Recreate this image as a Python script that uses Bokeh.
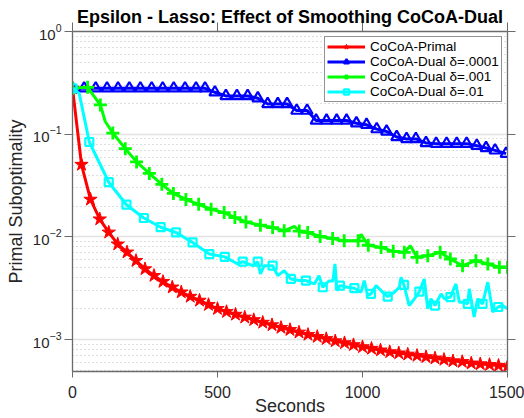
import numpy as np
from bokeh.plotting import figure
from bokeh.models import (Range1d, FixedTicker, LinearAxis, LogAxis, Legend, LegendItem,
                          ColumnDataSource, CustomJSTickFormatter)
from bokeh.embed import file_html
from bokeh.resources import INLINE

# ---------------- data ----------------
x_ticks = [0, 500, 1000, 1500]
y_ticks = [1e-3, 1e-2, 1e-1, 1.0]

primal_t = [0, 31, 62, 94, 125, 156, 188, 219, 250, 281, 312, 344, 375, 406, 438, 469,
            500, 531, 562, 594, 625, 656, 688, 719, 750, 781, 812, 844, 875, 906, 938, 969,
            1000, 1031, 1062, 1094, 1125, 1156, 1188, 1219, 1250, 1281, 1312, 1344, 1375,
            1406, 1438, 1469, 1500]
primal_v = [0.28, 0.0507, 0.0232, 0.0149, 0.0111, 0.0085, 0.0071, 0.00587, 0.00488, 0.0042,
            0.00367, 0.00324, 0.0029, 0.00263, 0.00241, 0.00219, 0.0020, 0.00187, 0.00176,
            0.00165, 0.00156, 0.00147, 0.00139, 0.00131, 0.00125, 0.00118, 0.00112, 0.00107,
            0.00102, 0.00097, 0.00093, 0.00089, 0.00085, 0.00082, 0.00079, 0.00076, 0.00074,
            0.00072, 0.00070, 0.00068, 0.00066, 0.00064, 0.00062, 0.00061, 0.00059, 0.00058,
            0.00057, 0.00056, 0.00055]

dual4_t = [0, 40, 80, 119, 157, 196, 234, 273, 311, 349, 388, 426, 457, 491, 529, 567, 604,
           639, 673, 708, 740, 773, 809, 840, 876, 911, 945, 979, 1014, 1049, 1083, 1118,
           1152, 1184, 1219, 1254, 1290, 1325, 1359, 1394, 1426, 1457, 1495]
dual4_v = [0.28, 0.28, 0.28, 0.28, 0.28, 0.28, 0.28, 0.28, 0.28, 0.28, 0.28, 0.28, 0.28,
           0.256, 0.236, 0.236, 0.236, 0.224, 0.197, 0.197, 0.197, 0.170, 0.170, 0.136,
           0.136, 0.136, 0.136, 0.128, 0.1236, 0.1122, 0.1064, 0.094, 0.090, 0.090, 0.0822,
           0.081, 0.081, 0.081, 0.081, 0.0774, 0.0735, 0.0697, 0.0647]

dual3_t = [0, 52, 96, 113, 139, 182, 221, 265, 308, 348, 391, 435, 478, 523, 560, 598, 648,
           690, 730, 765, 782, 811, 854, 897, 937, 985, 995, 1020, 1064, 1106, 1144, 1165,
           1188, 1225, 1268, 1303, 1345, 1391, 1432, 1472, 1500]
dual3_v = [0.28, 0.286, 0.193, 0.133, 0.1027, 0.0724, 0.0538, 0.0415, 0.0325, 0.0265, 0.0232,
           0.0208, 0.0186, 0.01726, 0.01545, 0.0140, 0.0130, 0.01235, 0.01146, 0.0127, 0.0114,
           0.01106, 0.0101, 0.00967, 0.00916, 0.00916, 0.0106, 0.0083, 0.00791, 0.00724,
           0.00708, 0.0082, 0.00633, 0.00657, 0.00708, 0.0061, 0.00525, 0.00587, 0.00546,
           0.00507, 0.00507]
dual3_mark = [1, 1, 1, 0, 1, 1, 1, 1, 1, 1, 1, 1, 1, 1, 1, 1, 1, 1, 1, 0, 1, 1, 1, 1, 1, 1, 0,
              1, 1, 1, 1, 0, 1, 1, 1, 1, 1, 1, 1, 1, 1]

dual2_t = [0, 23, 58, 125, 186, 246, 304, 357, 414, 472, 525, 570, 587, 621, 639, 648, 661,
           690, 708, 730, 753, 782, 805, 834, 850, 863, 884, 898, 905, 912, 922, 949, 972,
           995, 1006, 1018, 1029, 1047, 1064, 1087, 1110, 1127, 1133, 1143, 1161, 1179, 1196,
           1213, 1225, 1236, 1250, 1271, 1282, 1303, 1322, 1334, 1350, 1363, 1368, 1385, 1397,
           1414, 1432, 1449, 1468, 1483, 1500]
dual2_v = [0.28, 0.25, 0.084, 0.0341, 0.0206, 0.0153, 0.01244, 0.01106, 0.00885, 0.00681,
           0.0064, 0.00546, 0.00574, 0.00525, 0.00574, 0.00436, 0.00525, 0.00525, 0.0042,
           0.0047, 0.0039, 0.00376, 0.00376, 0.00349, 0.0042, 0.00324, 0.00373, 0.00373,
           0.00546, 0.0030, 0.00336, 0.00324, 0.00317, 0.0029, 0.00376, 0.00269, 0.00279,
           0.00336, 0.00301, 0.00263, 0.0029, 0.00324, 0.00406, 0.00341, 0.00215, 0.0025,
           0.00294, 0.0039, 0.0020, 0.0025, 0.00215, 0.00279, 0.0025, 0.0026, 0.00349,
           0.00232, 0.00232, 0.00223, 0.00313, 0.00166, 0.0025, 0.00223, 0.00363, 0.00186,
           0.00208, 0.00215, 0.0020]
dual2_mark = [1, 0, 1, 1, 1, 1, 1, 1, 1, 1, 1, 0, 1, 0, 1, 0, 0, 1, 0, 0, 1, 0, 1, 0, 0, 1,
              0, 0, 0, 0, 1, 0, 1, 0, 0, 0, 1, 0, 0, 1, 0, 0, 0, 1, 0, 0, 1, 0, 0, 0, 1, 0,
              0, 1, 0, 0, 0, 1, 0, 0, 0, 1, 0, 0, 1, 0, 0]

labels = ["CoCoA-Primal", "CoCoA-Dual \u03b4=.0001", "CoCoA-Dual \u03b4=.001",
          "CoCoA-Dual \u03b4=.01"]
title_text = "Epsilon - Lasso: Effect of Smoothing CoCoA-Dual"
x_label = "Seconds"
y_label = "Primal Suboptimality"

# ---------------- figure ----------------
FONT = "Liberation Sans"
AX = "#6b6b6b"
TK = "#262626"

p = figure(width=524, height=418, y_axis_type="log",
           x_range=Range1d(0, 1500), y_range=Range1d(4.9e-4, 1.0),
           output_backend="svg", toolbar_location=None,
           min_border_left=72, min_border_right=17, min_border_top=31,
           min_border_bottom=45)
p.outline_line_color = None
p.background_fill_color = "white"
p.border_fill_color = "white"

p.title.text = title_text
p.title.text_font = FONT
p.title.text_font_size = "18px"
p.title.text_font_style = "bold"
p.title.text_color = "#000000"
p.title.align = "center"
p.title.standoff = -8

minor = [m * 10.0 ** e for e in range(-4, 0) for m in range(2, 10)]
yticker = FixedTicker(ticks=y_ticks, minor_ticks=minor)
xticker = FixedTicker(ticks=x_ticks)


def style_axis(ax, tick_out):
    ax.axis_line_color = AX
    ax.axis_line_width = 1.3
    ax.major_tick_line_color = AX
    ax.major_tick_in = 0
    ax.major_tick_out = tick_out
    ax.minor_tick_line_color = None
    ax.major_label_text_color = TK
    ax.major_label_text_font = FONT
    ax.axis_label_text_font = FONT
    ax.axis_label_text_font_style = "normal"
    ax.axis_label_text_color = TK
    ax.axis_label_text_font_size = "18px"


xa = p.xaxis[0]
xa.ticker = xticker
style_axis(xa, 6)
xa.major_label_text_font_size = "16px"
xa.major_label_standoff = 8
xa.axis_label = x_label
xa.axis_label_standoff = -5

ya = p.yaxis[0]
ya.ticker = yticker
style_axis(ya, 8)
ya.major_label_text_font_size = "15px"
ya.major_label_standoff = 3
ya.axis_label = y_label
ya.axis_label_standoff = 4

top = LinearAxis(ticker=xticker, formatter=CustomJSTickFormatter(code="return ''"))
style_axis(top, 9)
top.major_label_standoff = 0
p.add_layout(top, "above")
right = LogAxis(ticker=yticker, formatter=CustomJSTickFormatter(code="return ''"))
style_axis(right, 8)
right.major_label_standoff = 0
p.add_layout(right, "right")

p.xgrid.grid_line_color = None
p.ygrid.ticker = yticker
p.ygrid.grid_line_color = "#e3e3e3"
p.ygrid.grid_line_width = 1.6
p.ygrid.minor_grid_line_color = "#bdbdbd"
p.ygrid.minor_grid_line_dash = "1 3"
p.ygrid.minor_grid_line_width = 1

# ---------------- series ----------------
items = []

src = ColumnDataSource(dict(t=primal_t, v=primal_v))
l1 = p.line("t", "v", source=src, line_color="#ff0000", line_width=3)
m1 = p.scatter("t", "v", source=src, marker="star", size=14, fill_color="#ff0000",
               line_color="#ff0000", line_width=1)
items.append(LegendItem(label=labels[0], renderers=[l1, m1]))

src = ColumnDataSource(dict(t=dual4_t, v=dual4_v))
l2 = p.line("t", "v", source=src, line_color="#0000ff", line_width=3)
m2 = p.scatter("t", "v", source=src, marker="triangle", size=11, fill_color=None,
               line_color="#0000ff", line_width=2.2)
items.append(LegendItem(label=labels[1], renderers=[l2, m2]))

t3 = np.array(dual3_t, dtype=float)
v3 = np.array(dual3_v)
k3 = np.array(dual3_mark, dtype=bool)
l3 = p.line(t3, v3, line_color="#00ff00", line_width=3)
m3 = p.scatter(t3[k3], v3[k3], marker="cross", size=13, line_color="#00ff00",
               line_width=2.8)
items.append(LegendItem(label=labels[2], renderers=[l3, m3]))

t2 = np.array(dual2_t, dtype=float)
v2 = np.array(dual2_v)
k2 = np.array(dual2_mark, dtype=bool)
l4 = p.line(t2, v2, line_color="#00ffff", line_width=3)
m4 = p.scatter(t2[k2], v2[k2], marker="square", size=8, fill_color=None,
               line_color="#00ffff", line_width=2.2)
items.append(LegendItem(label=labels[3], renderers=[l4, m4]))

legend = Legend(items=items, location=(252, 269), orientation="vertical",
                label_text_font=FONT, label_text_font_size="13.5px",
                label_text_color="#000000",
                glyph_width=38, glyph_height=13, label_height=13, label_standoff=5,
                spacing=0, padding=2, margin=0,
                border_line_color="#262626", border_line_width=1,
                background_fill_color="white", background_fill_alpha=1.0)
p.add_layout(legend, "center")

open("out.html", "w").write(file_html(p, INLINE))
